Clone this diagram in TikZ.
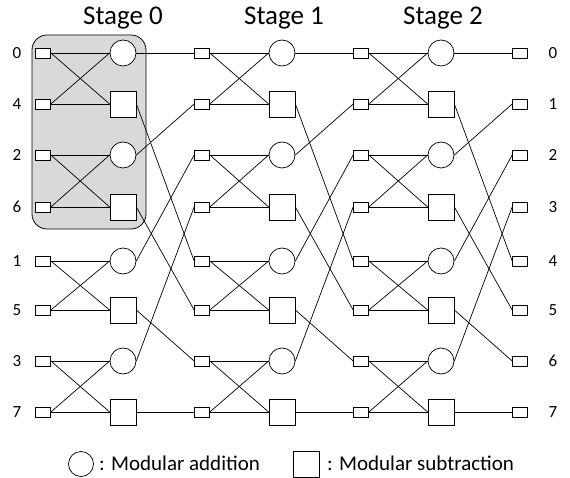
\documentclass[tikz,border=0pt]{standalone}
\usepackage{fontspec}
\setmainfont{Carlito}
\definecolor{boxgray}{HTML}{D9D9D9}
\begin{document}
\begin{tikzpicture}[x=1pt,y=-1pt,
  inbox/.style={draw,fill=white,minimum width=15pt,minimum height=10pt,inner sep=0pt,line width=0.7pt},
  addop/.style={draw,fill=white,circle,minimum size=26pt,inner sep=0pt,line width=0.7pt},
  subop/.style={draw,fill=white,rectangle,minimum size=26pt,inner sep=0pt,line width=0.7pt},
  wire/.style={line width=0.7pt},
  lbl/.style={font=\fontsize{17}{20}\selectfont},
  ttl/.style={font=\fontsize{27}{31}\selectfont,inner sep=0pt},
  legtxt/.style={font=\fontsize{21}{25}\selectfont,inner sep=0pt},
  stagebox/.style={draw,fill=boxgray,rounded corners=15pt,line width=0.8pt}]
\useasboundingbox (0,0) rectangle (570,478);
% shaded stage-0 group
\draw[stagebox] (32,35) rectangle (146,229);
% titles
\node[ttl,anchor=base] (t0) at (123,25) {Stage 0};
\node[ttl,anchor=base] (t1) at (284,25) {Stage 1};
\node[ttl,anchor=base] (t2) at (443,25) {Stage 2};
% small input/output boxes
\foreach \r/\y in {0/53,1/104,2/155,3/207,4/261,5/310,6/361,7/412}{
  \node[inbox] (I0-\r) at (43,\y) {};
  \node[inbox] (I1-\r) at (202,\y) {};
  \node[inbox] (I2-\r) at (361,\y) {};
  \node[inbox] (I3-\r) at (520,\y) {};
}
% operators
\foreach \r/\y in {0/53,2/155,4/261,6/361}{
  \node[addop] (O0-\r) at (123,\y) {};
  \node[addop] (O1-\r) at (282,\y) {};
  \node[addop] (O2-\r) at (441,\y) {};
}
\foreach \r/\y in {1/104,3/207,5/310,7/412}{
  \node[subop] (O0-\r) at (123,\y) {};
  \node[subop] (O1-\r) at (282,\y) {};
  \node[subop] (O2-\r) at (441,\y) {};
}
% butterflies
\foreach \s in {0,1,2}{
  \foreach \k [evaluate=\k as \a using int(2*\k), evaluate=\k as \b using int(2*\k+1)] in {0,...,3}{
    \draw[wire] (I\s-\a.east) -- (O\s-\a.west);
    \draw[wire] (I\s-\a.east) -- (O\s-\b.west);
    \draw[wire] (I\s-\b.east) -- (O\s-\a.west);
    \draw[wire] (I\s-\b.east) -- (O\s-\b.west);
  }
}
% shuffles
\foreach \s [evaluate=\s as \t using int(\s+1)] in {0,1,2}{
  \foreach \k [evaluate=\k as \a using int(2*\k), evaluate=\k as \b using int(2*\k+1), evaluate=\k as \c using int(\k+4)] in {0,...,3}{
    \draw[wire] (O\s-\a.east) -- (I\t-\k.west);
    \draw[wire] (O\s-\b.east) -- (I\t-\c.west);
  }
}
% labels
\foreach \r/\y/\t in {0/53/0,1/104/4,2/155/2,3/207/6,4/261/1,5/310/5,6/361/3,7/412/7}{
  \node[lbl] (L-\r) at (17,\y) {\t};
}
\foreach \r/\y in {0/53,1/104,2/155,3/207,4/261,5/310,6/361,7/412}{
  \node[lbl] (R-\r) at (553,\y) {\r};
}
% legend
\node[addop,minimum size=25pt] (legA) at (81,464) {};
\node[legtxt,anchor=base west] (legAt) at (99,470) {: Modular addition};
\node[subop] (legS) at (306,464) {};
\node[legtxt,anchor=base west] (legSt) at (327,470) {: Modular subtraction};
\end{tikzpicture}
\end{document}
